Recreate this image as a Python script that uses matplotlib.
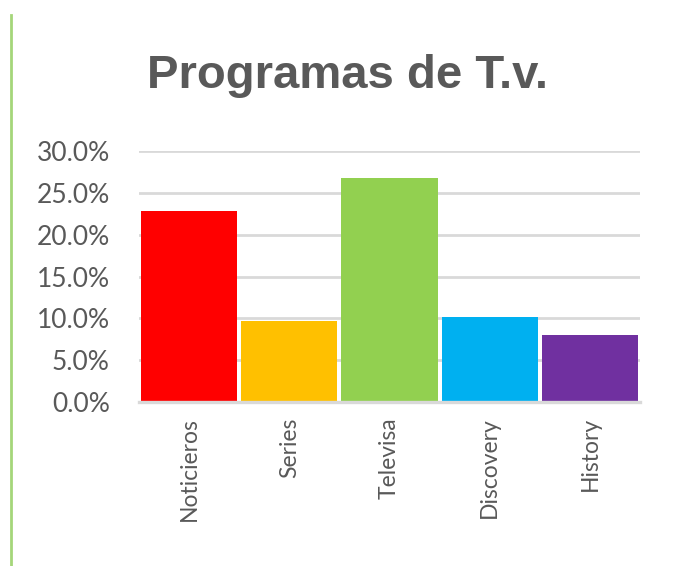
import matplotlib.pyplot as plt
from matplotlib.lines import Line2D
from matplotlib.ticker import FuncFormatter

categorias = ['Noticieros', 'Series', 'Televisa', 'Discovery', 'History']
valores = [0.228, 0.097, 0.268, 0.102, 0.080]
colores = ['#FF0000', '#FFC000', '#92D050', '#00B0F0', '#7030A0']
ticks_y = [0.0, 0.05, 0.10, 0.15, 0.20, 0.25, 0.30]

gris = '#595959'

fig = plt.figure(figsize=(6.79, 5.66), dpi=100)
fig.patch.set_facecolor('white')

# area del grafico en pixeles de la imagen original
ax = fig.add_axes([139 / 679, 1 - 402 / 566, 501 / 679, 251 / 566])

ax.bar(range(len(categorias)), valores, width=0.96, color=colores, zorder=3)

ax.set_xlim(-0.5, len(categorias) - 0.5)
ax.set_ylim(0, 0.30)
ax.set_yticks(ticks_y)
ax.yaxis.set_major_formatter(FuncFormatter(lambda v, p: f'{v * 100:.1f}%'))
ax.set_xticks(range(len(categorias)))
ax.set_xticklabels(categorias, rotation=90)

ax.grid(axis='y', color='#D9D9D9', linewidth=2, zorder=0)
for lado in ['top', 'right', 'left']:
    ax.spines[lado].set_visible(False)
ax.spines['bottom'].set_color('#D9D9D9')
ax.spines['bottom'].set_linewidth(2.4)
ax.spines['bottom'].set_zorder(4)

ax.tick_params(axis='y', length=0, pad=21, labelsize=19, labelcolor=gris)
ax.tick_params(axis='x', length=0, pad=11, labelsize=16.5, labelcolor=gris)
for t in ax.get_xticklabels() + ax.get_yticklabels():
    t.set_fontfamily('Lato')

# titulo
fig.text(348 / 679, 1 - 76 / 566, 'Programas de T.v.', ha='center', va='center',
         fontsize=34, fontweight='bold', color=gris, family='Liberation Sans')

# linea verde a la izquierda
fig.add_artist(Line2D([11 / 679, 11 / 679], [0, 1 - 15 / 566],
                      color='#A5D67A', linewidth=2, transform=fig.transFigure))

plt.savefig('out.png', dpi=100)
